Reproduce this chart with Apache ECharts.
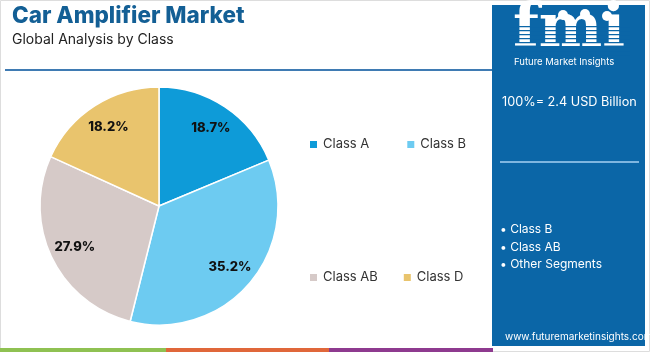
<!DOCTYPE html>
<html><head><meta charset="utf-8">
<script src="https://cdn.jsdelivr.net/npm/echarts@6/dist/echarts.min.js"></script>
<style>html,body{margin:0;padding:0;background:#fff}#c{width:650px;height:352px}</style>
</head><body><div id="c"></div>
<script>
const categories = ['Class A', 'Class B', 'Class AB', 'Class D'];
const shares = [18.7, 35.2, 27.9, 18.2];
const colors = ['#0e9bd8', '#6dcbf1', '#d6cac8', '#e9c46d'];
const bullets = ['• Class B', '• Class AB', '• Other Segments'];

const chart = echarts.init(document.getElementById('c'), null, {renderer: 'canvas'});
const F = 'Inter, "Open Sans", sans-serif';
const PANEL = '#0b66a7';
const stripes = [];
for (let y = 26; y <= 54; y += 4) {
  stripes.push({type: 'rect', shape: {x: 510, y: y, width: 120, height: 1.2}, style: {fill: PANEL}, z: 10});
}
const option = {
  animation: false,
  color: colors,
  legend: [
    {data: [categories[0], categories[1]], left: 308, top: 138, padding: 0, itemWidth: 9, itemHeight: 9, itemGap: 36, icon: 'rect',
     textStyle: {fontFamily: F, fontSize: 13, color: '#333'}},
    {data: [categories[2], categories[3]], left: 308, top: 271, padding: 0, itemWidth: 9, itemHeight: 9, itemGap: 24, icon: 'rect',
     textStyle: {fontFamily: F, fontSize: 13, color: '#333'}}
  ],
  graphic: [
    {type: 'rect', shape: {x: 0.5, y: 0.5, width: 649, height: 351}, style: {fill: 'none', stroke: '#ddd', lineWidth: 1}, z: -1},
    {type: 'text', x: 12, y: 5, style: {text: 'Car Amplifier Market', font: '800 22.5px ' + F, fill: '#135f95'}},
    {type: 'text', x: 12, y: 33, style: {text: 'Global Analysis by Class', font: '14px ' + F, fill: '#222'}},
    {type: 'rect', shape: {x: 5, y: 69, width: 487, height: 2}, style: {fill: '#3f7bb3'}},
    {type: 'rect', shape: {x: 492, y: 5, width: 153, height: 341}, style: {fill: PANEL}},
    {type: 'text', x: 569, y: 0, z: 5, style: {text: 'fmi', font: 'bold 60px "DejaVu Serif", serif', fill: '#fff', align: 'center'}},
    {type: 'circle', shape: {cx: 563, cy: 15, r: 5}, style: {fill: '#fff'}, z: 11},
    {type: 'circle', shape: {cx: 585, cy: 14, r: 5}, style: {fill: '#fff'}, z: 11},
    {type: 'circle', shape: {cx: 607, cy: 16, r: 5}, style: {fill: '#fff'}, z: 11},
    ...stripes,
    {type: 'text', x: 514, y: 57, style: {text: 'Future Market Insights', font: '9.5px ' + F, fill: '#fff'}},
    {type: 'text', x: 502, y: 96, style: {text: '100%= 2.4 USD Billion', font: '12.7px ' + F, fill: '#fff'}},
    {type: 'rect', shape: {x: 500, y: 161, width: 139, height: 2}, style: {fill: '#7fb6e0'}},
    {type: 'text', x: 500, y: 221, style: {text: bullets.join('\n'), font: '12px ' + F, fill: '#fff', lineHeight: 17.5}},
    {type: 'text', x: 505, y: 332, style: {text: 'www.futuremarketinsights.com', font: '10px ' + F, fill: '#fff'}},
    {type: 'rect', shape: {x: 0, y: 348, width: 166, height: 4}, style: {fill: '#8fc152'}},
    {type: 'rect', shape: {x: 166, y: 348, width: 163, height: 4}, style: {fill: '#e0673a'}},
    {type: 'rect', shape: {x: 329, y: 348, width: 164, height: 4}, style: {fill: '#8e3a8f'}}
  ],
  series: [{
    type: 'pie',
    center: [159, 206],
    radius: [0, 119],
    startAngle: 90,
    clockwise: true,
    data: categories.map((n, i) => ({name: n, value: shares[i]})),
    itemStyle: {borderColor: '#fff', borderWidth: 1.5},
    label: {show: false},
    labelLine: {show: false}
  }, {
    type: 'pie',
    center: [159, 206],
    radius: [62, 119],
    startAngle: 90,
    clockwise: true,
    silent: true,
    data: categories.map((n, i) => ({name: n, value: shares[i]})),
    itemStyle: {color: 'rgba(0,0,0,0)', borderWidth: 0},
    emphasis: {disabled: true},
    label: {position: 'inside', formatter: p => p.value.toFixed(1) + '%', fontFamily: F, fontWeight: 800, fontSize: 13, color: '#111'},
    labelLine: {show: false}
  }]
};
chart.setOption(option);
</script></body></html>
